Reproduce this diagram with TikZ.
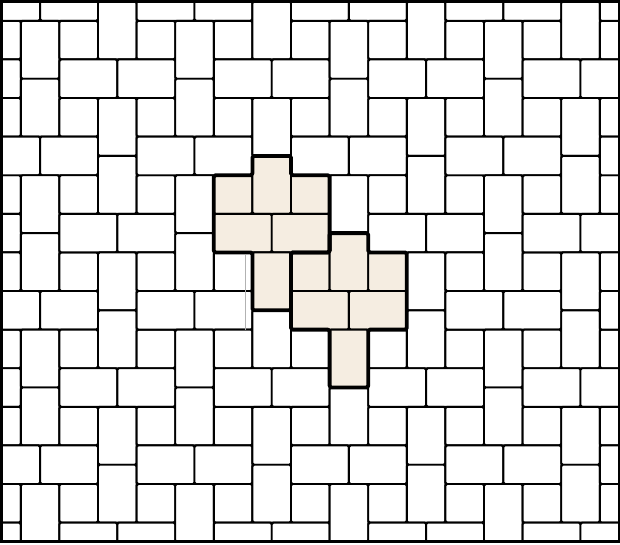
\documentclass[tikz,border=0pt]{standalone}
\definecolor{beige}{RGB}{245,237,225}
\tikzset{
  tilebox/.style={draw=black,line width=1.4pt,rounded corners=1.2pt,fill=white},
  hitile/.style={draw=black,line width=1.4pt,rounded corners=1.2pt,fill=beige},
  hiedge/.style={draw=black,line width=2.8pt,rounded corners=1.2pt,line join=round},
  framebox/.style={draw=black,line width=2.2pt},
  ghost/.style={draw=black!30,line width=0.6pt}
}
\newcommand{\mymotif}[3]{%
  \begin{scope}[shift={(#1,#2)}]
    \path[#3] (0,-1) rectangle (1,0);
    \path[#3] (1,-1.5) rectangle (2,0);
    \path[#3] (2,-1) rectangle (3,0);
    \path[#3] (0,0) rectangle (1.5,1);
    \path[#3] (1.5,0) rectangle (3,1);
    \path[#3] (1,1) rectangle (2,2.5);
  \end{scope}}
\newcommand{\myoutline}[2]{%
  \begin{scope}[shift={(#1,#2)}]
    \path[hiedge] (0,-1) -- (1,-1) -- (1,-1.5) -- (2,-1.5) -- (2,-1) -- (3,-1)
      -- (3,1) -- (2,1) -- (2,2.5) -- (1,2.5) -- (1,1) -- (0,1) -- cycle;
  \end{scope}}
\begin{document}
\begin{tikzpicture}[x=1cm,y=-1cm]
\useasboundingbox[fill=white] (-0.039,-0.039) rectangle (16.023,14.08);
\begin{scope}
  \clip (0,0) rectangle (16,14);
  \foreach \a in {-3,...,9}{
    \foreach \b in {-3,...,9}{
      \pgfmathtruncatemacro\p{mod(\a+\b+40,2)}
      \ifnum\p=0
        \pgfmathsetmacro\ox{1.5+2*\a}
        \pgfmathsetmacro\oy{1.5+2*\b}
        \mymotif{\ox}{\oy}{tilebox}
      \fi
    }
  }
  \mymotif{5.5}{5.5}{hitile}
  \mymotif{7.5}{7.5}{hitile}
  \myoutline{5.5}{5.5}
  \myoutline{7.5}{7.5}
  \path[ghost] (6.31,6.57) -- (6.31,8.51);
\end{scope}
\path[framebox] (0,0) rectangle (16,14);
\end{tikzpicture}
\end{document}
